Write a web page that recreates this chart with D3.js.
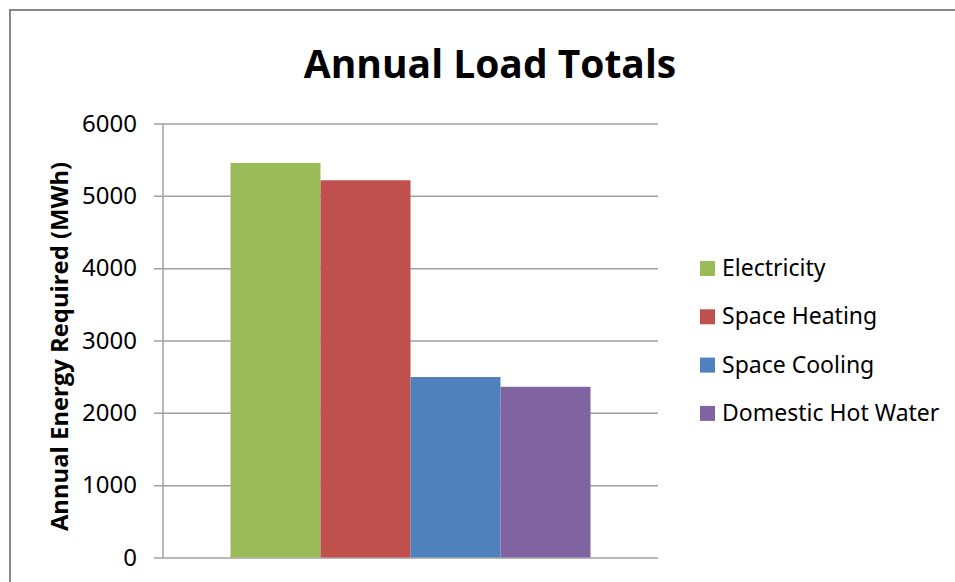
<!DOCTYPE html>
<html>
<head>
<meta charset="utf-8">
<script src="https://cdn.jsdelivr.net/npm/d3@7"></script>
<style>
  body { margin: 0; background: #fff; }
  svg { display: block; }
</style>
</head>
<body>
<script>
const categories = ['Annual']
const seriesNames = ['Electricity', 'Space Heating', 'Space Cooling', 'Domestic Hot Water']
const seriesValues = [5455, 5215, 2495, 2360]
const seriesColors = ['#9bbb59', '#c0504d', '#4f81bd', '#8064a2']
const yTicks = [0, 1000, 2000, 3000, 4000, 5000, 6000]

const box = {
  width: 955,
  height: 582,
  plotLeft: 163,
  plotRight: 658,
  plotTop: 123.5,
  plotBottom: 557.5
}

const svg = d3.select('body').append('svg')
  .attr('width', box.width)
  .attr('height', box.height)

// outer chart border (runs off the right and bottom of the window)
svg.append('rect')
  .attr('x', 10).attr('y', 10)
  .attr('width', 960).attr('height', 600)
  .attr('fill', '#fff')
  .attr('stroke', '#868686')
  .attr('stroke-width', 2)

const yScale = d3.scaleLinear().domain([0, 6000]).range([box.plotBottom, box.plotTop])
const x0 = d3.scaleBand().domain(categories).range([box.plotLeft, box.plotRight]).paddingInner(0).paddingOuter(0.1875)
const x1 = d3.scaleBand().domain(seriesNames).range([0, x0.bandwidth()])

// gridlines + y axis ticks
const yAxis = d3.axisLeft(yScale)
  .tickValues(yTicks)
  .tickSize(-(box.plotRight - box.plotLeft))
  .tickPadding(26)
  .tickFormat(d3.format('d'))

const yg = svg.append('g')
  .attr('transform', `translate(${box.plotLeft},0)`)
  .call(yAxis)
yg.select('.domain').remove()
yg.selectAll('.tick line')
  .attr('x1', -9)
  .attr('stroke', '#a0a0a0')
  .attr('stroke-width', 1.5)
yg.selectAll('.tick text')
  .attr('fill', '#000')
  .style('font-family', '"Noto Sans", sans-serif')
  .style('font-size', '24px')

// bars
svg.append('g').selectAll('rect')
  .data(seriesNames)
  .join('rect')
  .attr('x', (d, i) => x0(categories[0]) + x1(d))
  .attr('y', (d, i) => yScale(seriesValues[i]))
  .attr('width', x1.bandwidth())
  .attr('height', (d, i) => yScale(0) - yScale(seriesValues[i]))
  .attr('fill', (d, i) => seriesColors[i])

// y axis line
svg.append('line')
  .attr('x1', box.plotLeft).attr('x2', box.plotLeft)
  .attr('y1', box.plotTop).attr('y2', box.plotBottom)
  .attr('stroke', '#a0a0a0')
  .attr('stroke-width', 1.5)

// title
svg.append('text')
  .attr('x', 490).attr('y', 78)
  .attr('text-anchor', 'middle')
  .style('font-family', '"Open Sans", sans-serif')
  .style('font-weight', 'bold')
  .style('font-size', '39px')
  .text('Annual Load Totals')

// y axis title
svg.append('text')
  .attr('transform', 'translate(68,346.5) rotate(-90)')
  .attr('text-anchor', 'middle')
  .style('font-family', '"Open Sans", sans-serif')
  .style('font-weight', 'bold')
  .style('font-size', '23.8px')
  .text('Annual Energy Required (MWh)')

// legend
const legend = svg.append('g').selectAll('g')
  .data(seriesNames)
  .join('g')
  .attr('transform', (d, i) => `translate(700,${268 + i * 48.3})`)
legend.append('rect')
  .attr('x', 0).attr('y', -7)
  .attr('width', 15).attr('height', 15)
  .attr('fill', (d, i) => seriesColors[i])
legend.append('text')
  .attr('x', 22).attr('y', 8)
  .style('font-family', '"Noto Sans", sans-serif')
  .style('font-size', '23px')
  .text(d => d)
</script>
</body>
</html>
